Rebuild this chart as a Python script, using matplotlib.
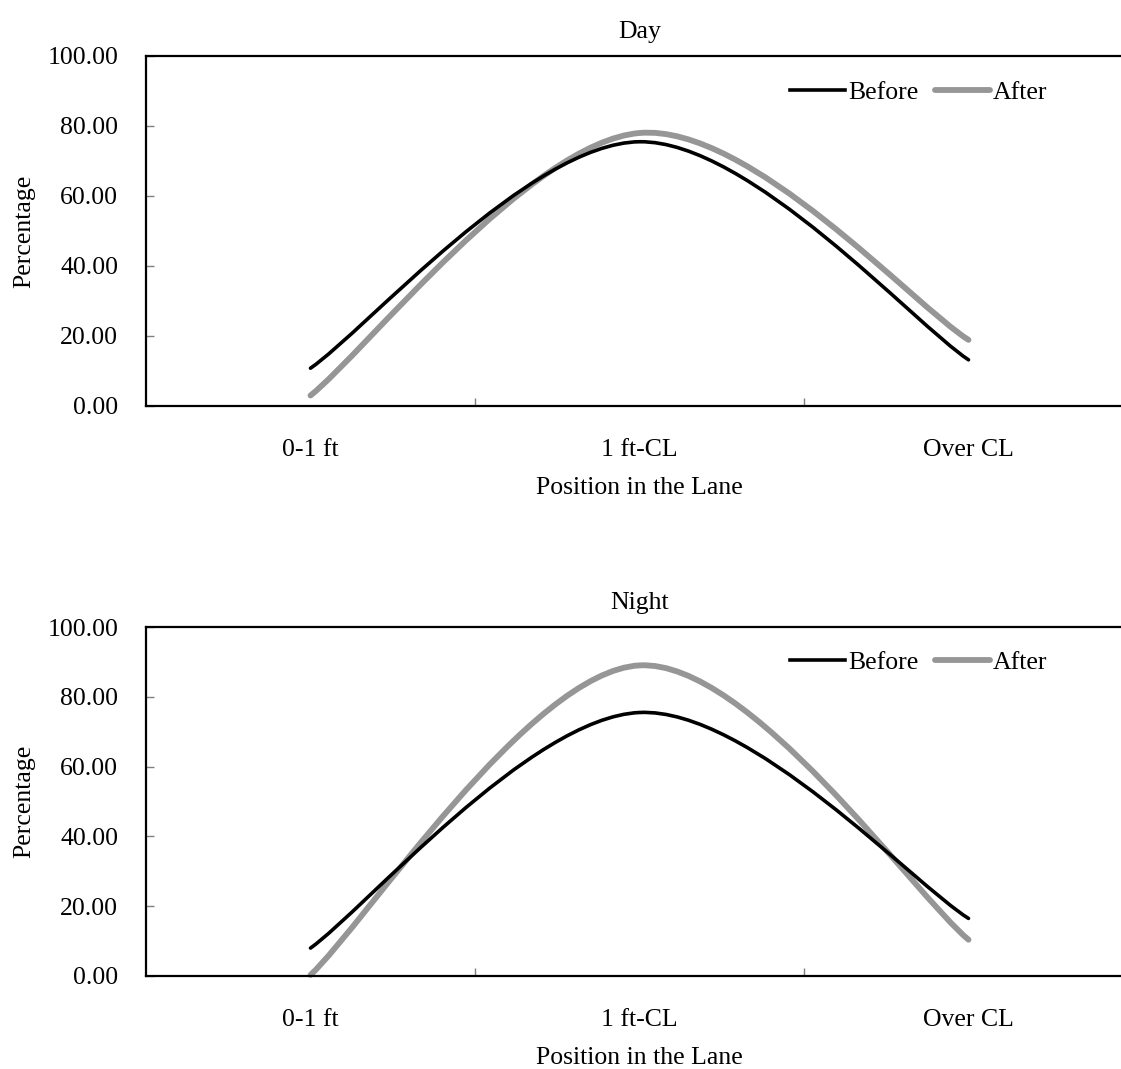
import matplotlib
matplotlib.use("Agg")
import matplotlib.pyplot as plt
from matplotlib.path import Path
from matplotlib.patches import PathPatch
from matplotlib.lines import Line2D

categories = ["0-1 ft", "1 ft-CL", "Over CL"]
day_before = [10.8, 75.5, 13.2]
day_after = [3.0, 78.0, 18.9]
night_before = [8.0, 75.5, 16.5]
night_after = [0.3, 89.0, 10.4]
yticks = [0, 20, 40, 60, 80, 100]

plt.rcParams['font.family'] = ['Liberation Serif', 'DejaVu Serif']
FS = 18.5

BLACK = "black"
GRAY = "#969696"
LW_B = 2.6
LW_A = 4.2


def smooth_path(xs, ys):
    """Excel-style smoothed line: cubic Bezier segments through the data points."""
    pts = list(zip(xs, ys))
    n = len(pts)
    verts = [pts[0]]
    codes = [Path.MOVETO]
    for i in range(n - 1):
        p0 = pts[max(i - 1, 0)]
        p1 = pts[i]
        p2 = pts[i + 1]
        p3 = pts[min(i + 2, n - 1)]
        c1 = (p1[0] + (p2[0] - p0[0]) / 6, p1[1] + (p2[1] - p0[1]) / 6)
        c2 = (p2[0] - (p3[0] - p1[0]) / 6, p2[1] - (p3[1] - p1[1]) / 6)
        verts += [c1, c2, p2]
        codes += [Path.CURVE4] * 3
    return Path(verts, codes)


fig = plt.figure(figsize=(11.21, 10.69), dpi=100)
W, H = 1121, 1069


def make_ax(top_px, bottom_px, title, before, after):
    left, right = 146, 1133
    ax = fig.add_axes([left / W, (H - bottom_px) / H, (right - left) / W, (bottom_px - top_px) / H])
    xs = list(range(1, len(categories) + 1))
    for vals, col, lw, z in [(before, BLACK, LW_B, 3), (after, GRAY, LW_A, 2)]:
        patch = PathPatch(smooth_path(xs, vals), fill=False, edgecolor=col, lw=lw,
                          capstyle='round', joinstyle='round', clip_on=False, zorder=z)
        ax.add_patch(patch)
    ax.set_xlim(0.5, len(categories) + 0.5)
    ax.set_ylim(0, 100)
    ax.set_yticks(yticks)
    ax.set_yticklabels([f"{v:.2f}" for v in yticks], fontsize=FS)
    ax.set_xticks(xs)
    ax.set_xticklabels(categories, fontsize=FS)
    ax.set_xticks([i + 0.5 for i in xs[:-1]], minor=True)
    ax.tick_params(axis='x', which='major', length=0, pad=24)
    ax.tick_params(axis='x', which='minor', direction='in', length=6, width=1, color='#808080')
    ax.tick_params(axis='y', direction='in', length=6, width=1, color='#808080', pad=20)
    for s in ['left', 'top', 'bottom']:
        ax.spines[s].set_linewidth(1.6)
        ax.spines[s].set_color('black')
    ax.spines['right'].set_visible(False)
    ax.set_title(title, fontsize=FS, pad=13)
    ax.set_xlabel("Position in the Lane", fontsize=FS, labelpad=11)
    ax.set_ylabel("Percentage", fontsize=FS, labelpad=9)
    handles = [Line2D([], [], color=BLACK, lw=LW_B),
               Line2D([], [], color=GRAY, lw=LW_A, solid_capstyle='round')]
    ax.legend(handles, ["Before", "After"], loc='center left', bbox_to_anchor=(0.6525, 0.897),
              ncol=2, frameon=False, fontsize=FS, handlelength=2.15, handletextpad=0.12,
              columnspacing=0.62, borderpad=0, borderaxespad=0)
    return ax


make_ax(56, 406, "Day", day_before, day_after)
make_ax(627, 976, "Night", night_before, night_after)

fig.savefig("out.png", dpi=100)
